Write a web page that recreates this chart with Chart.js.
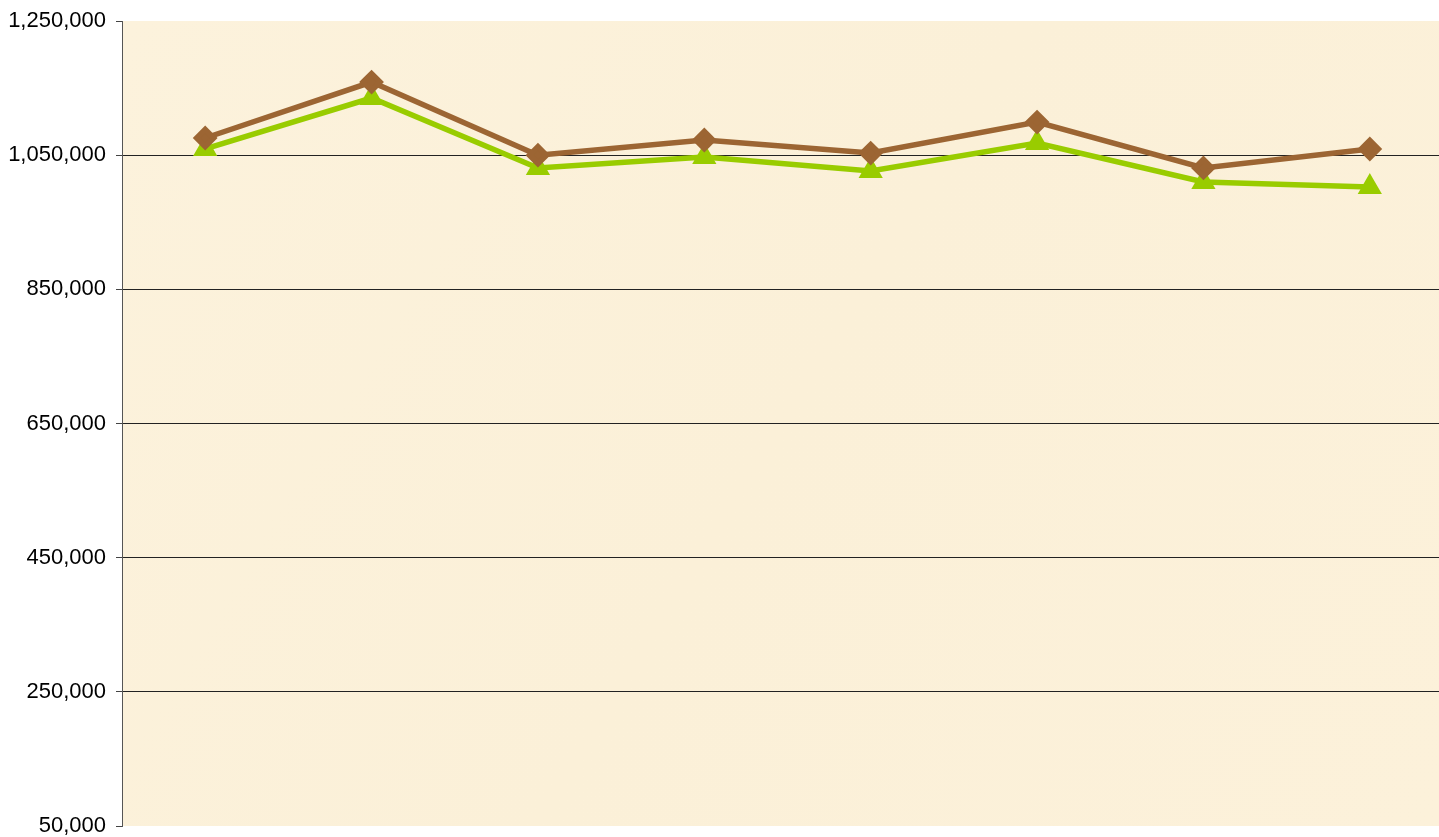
<!DOCTYPE html>
<html><head><meta charset="utf-8">
<script src="https://cdn.jsdelivr.net/npm/chart.js@4/dist/chart.umd.min.js"></script>
<style>html,body{margin:0;padding:0;background:#fff;overflow:hidden;}#wrap{width:1439px;height:837px;}canvas{display:block;}</style>
</head><body><div id="wrap"><canvas id="c" width="1439" height="837"></canvas></div>
<script>
const categories = ["1","2","3","4","5","6","7","8"];
const seriesBrown = [1075600, 1159000, 1050000, 1072600, 1053200, 1099400, 1030900, 1059200];
const seriesGreen = [1059200, 1135200, 1030900, 1047300, 1026400, 1068100, 1010000, 1002500];
const yMin = 50000, yMax = 1250000, yStep = 200000;

const bgPlugin = {
  id: 'bg',
  afterLayout(chart) {
    // the original plot area extends slightly past the right edge of the image
    const x = chart.scales.x;
    x.right = chart.chartArea.right + 14;
    x.width = x.right - x.left;
    x.configure();
  },
  beforeDraw(chart) {
    const {ctx, chartArea: a} = chart;
    ctx.save();
    const g = ctx.createLinearGradient(a.left, a.top, a.right, a.bottom);
    g.addColorStop(0, '#fcf2dc');
    g.addColorStop(0.5, '#fbf0d8');
    g.addColorStop(1, '#fcf1da');
    ctx.fillStyle = g;
    ctx.fillRect(a.left, a.top, a.right - a.left, a.bottom - a.top);
    ctx.restore();
  }
};

function zeroPad(s) { s.paddingTop = 0; s.paddingBottom = 0; s.paddingLeft = 0; s.paddingRight = 0; }

new Chart(document.getElementById('c'), {
  type: 'line',
  data: {
    labels: categories,
    datasets: [
      { data: seriesBrown, borderColor: '#9c6533', backgroundColor: '#9c6533', borderWidth: 5.5,
        pointStyle: 'rectRot', pointRadius: 8.5, pointHoverRadius: 8.5, tension: 0 },
      { data: seriesGreen, borderColor: '#99cc00', backgroundColor: '#99cc00', borderWidth: 5.5,
        pointStyle: 'triangle', pointRadius: 8.5, pointHoverRadius: 8.5, tension: 0 }
    ]
  },
  options: {
    responsive: false, animation: false,
    layout: { autoPadding: false, padding: { top: 21, bottom: 11, left: 0, right: 0 } },
    plugins: { legend: { display: false }, tooltip: { enabled: false } },
    scales: {
      x: { display: false, offset: true, afterFit: zeroPad },
      y: {
        min: yMin, max: yMax,
        afterFit(s) { s.width = 122; zeroPad(s); },
        afterBuildTicks(s) { s.ticks = []; for (let v = yMin; v <= yMax; v += yStep) s.ticks.push({value: v}); },
        ticks: { color: '#000', font: { family: 'Liberation Sans, Arial', size: 22 }, padding: 10,
          callback: v => v.toLocaleString('en-US') },
        grid: {
          color: c => (c.tick && (c.tick.value === yMin || c.tick.value === yMax)) ? 'rgba(0,0,0,0)' : '#222',
          tickColor: '#444', tickLength: 6, lineWidth: 1
        },
        border: { color: '#555', width: 1 }
      }
    }
  },
  plugins: [bgPlugin]
});
</script></body></html>
